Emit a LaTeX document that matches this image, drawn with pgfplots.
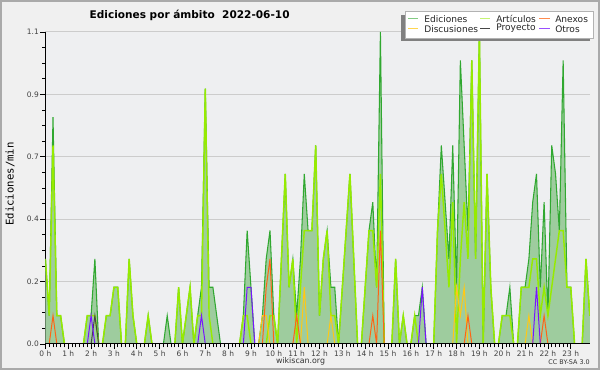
\documentclass[border=0pt]{standalone}
\usepackage{fontspec}
\setmainfont{DejaVu Sans}
\newfontfamily\monofont{DejaVu Sans Mono}
\usepackage{pgfplots}
\usepackage{pgfplotstable}
\pgfplotsset{compat=1.18}
\definecolor{outerbg}{RGB}{240,240,240}
\definecolor{plotbg}{RGB}{238,239,241}
\definecolor{gridc}{RGB}{204,204,204}
\definecolor{edfill}{RGB}{158,204,158}
\definecolor{edline}{RGB}{48,168,48}
\definecolor{artline}{RGB}{150,235,0}
\definecolor{discline}{RGB}{255,200,20}
\definecolor{proyline}{RGB}{70,70,70}
\definecolor{anexline}{RGB}{255,100,20}
\definecolor{otrosline}{RGB}{120,20,255}
\definecolor{framec}{RGB}{170,170,170}

\pgfplotstableread{
i ed art disc proy anex otros
0 0.3 0.3 0 0 0 0
1 0.1 0.1 0 0 0 0
2 0.8 0.7 0 0 0.1 0
3 0.1 0.1 0 0 0 0
4 0.1 0.1 0 0 0 0
5 0 0 0 0 0 0
6 0 0 0 0 0 0
7 0 0 0 0 0 0
8 0 0 0 0 0 0
9 0 0 0 0 0 0
10 0 0 0 0 0 0
11 0.1 0.1 0 0 0 0
12 0.1 0.1 0 0 0 0.1
13 0.3 0.1 0 0.1 0 0
14 0 0 0 0 0 0
15 0 0 0 0 0 0
16 0.1 0.1 0 0 0 0
17 0.1 0.1 0 0 0 0
18 0.2 0.2 0 0 0 0
19 0.2 0.2 0 0 0 0
20 0 0 0 0 0 0
21 0 0 0 0 0 0
22 0.3 0.3 0 0 0 0
23 0.1 0.1 0 0 0 0
24 0 0 0 0 0 0
25 0 0 0 0 0 0
26 0 0 0 0 0 0
27 0.1 0.1 0 0 0 0
28 0 0 0 0 0 0
29 0 0 0 0 0 0
30 0 0 0 0 0 0
31 0 0 0 0 0 0
32 0.1 0 0 0 0 0
33 0 0 0 0 0 0
34 0 0 0 0 0 0
35 0.2 0.2 0 0 0 0
36 0 0 0 0 0 0
37 0.1 0.1 0 0 0 0
38 0.2 0.2 0 0 0 0
39 0 0 0 0 0 0
40 0.1 0.1 0 0 0 0
41 0.2 0.1 0 0 0 0.1
42 0.9 0.9 0 0 0 0
43 0.2 0.1 0 0 0 0
44 0.2 0 0 0 0 0
45 0.1 0 0 0 0 0
46 0 0 0 0 0 0
47 0 0 0 0 0 0
48 0 0 0 0 0 0
49 0 0 0 0 0 0
50 0 0 0 0 0 0
51 0 0 0 0 0 0
52 0.1 0.1 0 0 0 0
53 0.4 0.1 0 0 0 0.2
54 0.2 0 0 0 0 0.2
55 0 0 0 0 0 0
56 0 0 0 0 0 0
57 0.1 0 0.1 0 0 0
58 0.3 0 0.1 0 0.2 0
59 0.4 0.1 0 0 0.3 0
60 0.1 0.1 0 0 0 0
61 0 0 0 0 0 0
62 0.3 0.3 0 0 0 0
63 0.6 0.6 0 0 0 0
64 0.2 0.2 0 0 0 0
65 0.3 0.3 0 0 0 0
66 0.1 0 0 0 0.1 0
67 0.3 0.2 0 0 0 0
68 0.6 0.4 0.2 0 0 0
69 0.4 0.4 0 0 0 0
70 0.4 0.4 0 0 0 0
71 0.7 0.7 0 0 0 0
72 0.1 0.1 0 0 0 0
73 0.3 0.3 0 0 0 0
74 0.4 0.4 0 0 0 0
75 0.2 0.1 0.1 0 0 0
76 0.2 0.1 0 0 0 0
77 0 0 0 0 0 0
78 0.2 0.2 0 0 0 0
79 0.4 0.4 0 0 0 0
80 0.6 0.6 0 0 0 0
81 0.3 0.3 0 0 0 0
82 0 0 0 0 0 0
83 0 0 0 0 0 0
84 0.2 0.2 0 0 0 0
85 0.4 0.4 0 0 0 0
86 0.5 0.4 0 0 0.1 0
87 0.2 0.2 0 0 0 0
88 1.1 0.6 0 0 0.4 0
89 0 0 0 0 0 0
90 0 0 0 0 0 0
91 0 0 0 0 0 0
92 0.3 0.3 0 0 0 0
93 0 0 0 0 0 0
94 0.1 0.1 0 0 0 0
95 0 0 0 0 0 0
96 0 0 0 0 0 0
97 0.1 0.1 0 0 0 0
98 0.1 0 0 0 0 0
99 0.2 0 0 0 0 0.2
100 0 0 0 0 0 0
101 0 0 0 0 0 0
102 0 0 0 0 0 0
103 0.4 0.4 0 0 0 0
104 0.7 0.6 0 0 0 0
105 0.5 0.4 0 0 0 0
106 0.3 0.2 0 0 0 0
107 0.7 0.5 0 0 0 0
108 0.2 0 0.2 0 0 0
109 1.0 0.3 0.1 0 0 0
110 0.7 0.5 0.2 0 0 0
111 0.4 0.3 0 0 0.1 0
112 1.0 1.0 0 0 0 0
113 0.3 0.3 0 0 0 0
114 1.1 1.1 0 0 0 0
115 0 0 0 0 0 0
116 0.6 0.6 0 0 0 0
117 0.2 0.2 0 0 0 0
118 0 0 0 0 0 0
119 0 0 0 0 0 0
120 0.1 0.1 0 0 0 0
121 0.1 0.1 0 0 0 0
122 0.2 0.1 0 0 0 0
123 0 0 0 0 0 0
124 0 0 0 0 0 0
125 0.2 0.2 0 0 0 0
126 0.2 0.2 0 0 0 0
127 0.3 0.2 0.1 0 0 0
128 0.5 0.3 0 0 0 0
129 0.6 0.3 0 0 0 0.2
130 0.2 0.1 0 0 0 0
131 0.5 0.2 0 0 0.1 0
132 0.1 0.1 0 0 0 0
133 0.7 0.2 0 0 0 0
134 0.6 0.3 0 0 0 0
135 0.4 0.4 0 0 0 0
136 1.0 0.4 0 0 0 0
137 0.2 0.2 0 0 0 0
138 0.2 0.2 0 0 0 0
139 0 0 0 0 0 0
140 0 0 0 0 0 0
141 0 0 0 0 0 0
142 0.3 0.3 0 0 0 0
143 0.1 0.1 0 0 0 0
}\data

\begin{document}
\begin{tikzpicture}
\fill[outerbg] (0,0) rectangle (450pt,277.5pt);
\draw[framec, line width=1.2pt] (0.6pt,0.6pt) rectangle (449.4pt,276.9pt);
\fill[plotbg] (34.05pt,19.5pt) rectangle (442.35pt,253.5pt);
\begin{axis}[
  at={(34.05pt,19.5pt)}, anchor=south west,
  scale only axis, width=408.3pt, height=234pt,
  xmin=0, xmax=143, ymin=0, ymax=1.1,
  axis x line=bottom, axis y line=left,
  axis line style={-, black, line width=0.75pt},
  xtick={0,6,...,138},
  xticklabels={0 h,1 h,2 h,3 h,4 h,5 h,6 h,7 h,8 h,9 h,10 h,11 h,12 h,13 h,14 h,15 h,16 h,17 h,18 h,19 h,20 h,21 h,22 h,23 h},
  minor x tick num=5,
  ytick={0,0.22,0.44,0.66,0.88,1.1},
  yticklabels={0.0,0.2,0.4,0.7,0.9,1.1},
  minor y tick num=3,
  ymajorgrids, major grid style={gridc, line width=0.75pt},
  tick align=outside, major tick length=3.75pt, minor tick length=2.5pt,
  every tick/.style={black, line width=0.6pt},
  ticklabel style={font=\fontsize{5.6}{6}\selectfont, text=black!75},
  xticklabel style={inner sep=1pt},
  yticklabel style={inner sep=1pt},
]
\addplot[draw=none, fill=edfill] table[x=i, y=ed] {\data} \closedcycle;
\addplot[edline, line width=0.8pt] table[x=i, y=ed] {\data};
\addplot[artline, line width=1.1pt] table[x=i, y=art] {\data};
\addplot[discline, line width=0.75pt] table[x=i, y=disc] {\data};
\addplot[proyline, line width=0.75pt] table[x=i, y=proy] {\data};
\addplot[anexline, line width=0.75pt] table[x=i, y=anex] {\data};
\addplot[otrosline, line width=0.75pt] table[x=i, y=otros] {\data};
\end{axis}
\draw[black, line width=0.75pt] (34.05pt,19.5pt) -- (442.35pt,19.5pt);
\begin{scope}[x=0.75pt, y=-0.75pt, shift={(0pt,277.5pt)}]
  % legend box with shadow
  \fill[black!50] (401,15) rectangle (590,41.5);
  \fill[white] (405,11.7) rectangle (593,38.3);
  \draw[black!30, line width=0.5pt] (405,11.7) rectangle (593,38.3);
  \begin{scope}[line width=0.7pt]
    \draw[edline!60] (408,18.6) -- (418,18.6);
    \draw[artline!55] (480,18.6) -- (490,18.6);
    \draw[anexline!75] (539,18.6) -- (550,18.6);
    \draw[discline!75] (408,28.8) -- (418,28.8);
    \draw[proyline] (480,28.8) -- (490,28.8);
    \draw[otrosline!75] (539,28.8) -- (550,28.8);
  \end{scope}
  \begin{scope}[every node/.style={anchor=west, inner sep=0pt, font=\fontsize{6.8}{7}\selectfont, text=black!85}]
    \node at (424,19.3) {Ediciones};
    \node at (496,18.6) {Artículos};
    \node at (555,19.3) {Anexos};
    \node at (424,29.5) {Discusiones};
    \node at (496,28.6) {Proyecto};
    \node at (555,29.5) {Otros};
  \end{scope}
\end{scope}
\node[anchor=base west, font=\bfseries\fontsize{7.9}{9}\selectfont] at (63.75pt,263.6pt) {Ediciones por ámbito\ \ 2022-06-10};
\node[rotate=90, font=\monofont\fontsize{8}{9}\selectfont] at (7.5pt,139.5pt) {Ediciones/min};
\node[font=\fontsize{5.9}{7}\selectfont, text=black!80] at (225.4pt,6.2pt) {wikiscan.org};
\node[anchor=east, font=\fontsize{4.8}{6}\selectfont, text=black!80, inner sep=0pt] at (442.5pt,5.5pt) {CC BY-SA 3.0};
\path[use as bounding box] (0,0) rectangle (450pt,277.5pt);
\end{tikzpicture}
\end{document}
